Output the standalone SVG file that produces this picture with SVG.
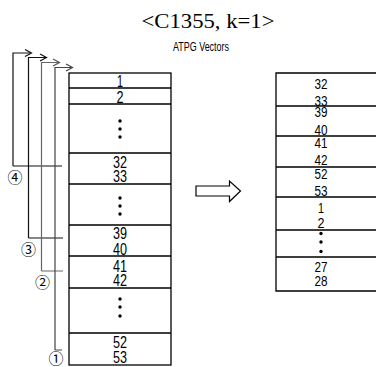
<svg xmlns="http://www.w3.org/2000/svg" width="377" height="367" viewBox="0 0 377 367">
<defs>
<style>
.ln{stroke:#000;stroke-width:1.3;fill:none}
.br{stroke:#111;stroke-width:1.2;fill:none}
.ah{stroke:#111;stroke-width:1.2;fill:none}
.n{font-family:"Liberation Sans",Arial,sans-serif;font-size:17px;text-anchor:middle;fill:#000}
.m{font-family:"Liberation Sans",Arial,sans-serif;font-size:14.5px;text-anchor:middle;fill:#000}
.c{font-family:"Noto Sans CJK JP","DejaVu Sans",sans-serif;font-size:15px;text-anchor:middle;fill:#000}
</style>
</defs>
<rect width="377" height="367" fill="#fff"/>
<text x="208" y="28" font-family="'Liberation Serif',serif" font-size="20" text-anchor="middle" textLength="133" lengthAdjust="spacingAndGlyphs">&lt;C1355, k=1&gt;</text>
<text x="201" y="51" font-family="'Liberation Sans',sans-serif" font-size="12.5" text-anchor="middle" textLength="56" lengthAdjust="spacingAndGlyphs">ATPG Vectors</text>

<g id="left-vectors">
<rect class="ln" x="69" y="73" width="102" height="292"/>
<path class="ln" d="M69 88H171M69 104H171M69 153H171M69 184H171M69 225H171M69 256H171M69 288H171M69 333H171"/>
<text class="n" x="120" y="87" textLength="6" lengthAdjust="spacingAndGlyphs">1</text>
<text class="n" x="120" y="103" textLength="7" lengthAdjust="spacingAndGlyphs">2</text>
<g fill="#000"><circle cx="120" cy="121" r="1.7"/><circle cx="120" cy="129" r="1.7"/><circle cx="120" cy="137" r="1.7"/></g>
<text class="n" x="120" y="168" textLength="14" lengthAdjust="spacingAndGlyphs">32</text>
<text class="n" x="120" y="182" textLength="14" lengthAdjust="spacingAndGlyphs">33</text>
<g fill="#000"><circle cx="120" cy="198" r="1.7"/><circle cx="120" cy="206" r="1.7"/><circle cx="120" cy="214" r="1.7"/></g>
<text class="n" x="120" y="239" textLength="14" lengthAdjust="spacingAndGlyphs">39</text>
<text class="n" x="120" y="255" textLength="14" lengthAdjust="spacingAndGlyphs">40</text>
<text class="n" x="120" y="272" textLength="14" lengthAdjust="spacingAndGlyphs">41</text>
<text class="n" x="120" y="286" textLength="14" lengthAdjust="spacingAndGlyphs">42</text>
<g fill="#000"><circle cx="120" cy="299" r="1.7"/><circle cx="120" cy="307" r="1.7"/><circle cx="120" cy="316" r="1.7"/></g>
<text class="n" x="120" y="348" textLength="14" lengthAdjust="spacingAndGlyphs">52</text>
<text class="n" x="120" y="363" textLength="14" lengthAdjust="spacingAndGlyphs">53</text>
</g>

<g id="connectors">
<g id="bracket-4">
<path class="br" d="M13 166V53H31M13 166H62"/>
<path class="ah" d="M25 49.5L31.5 53L25 56.5"/>
</g>
<g id="bracket-3">
<path class="br" d="M28.5 238V57.5H46M28.5 238H63"/>
<path class="ah" d="M40 54L46.5 57.5L40 61"/>
</g>
<g id="bracket-2">
<path class="br" style="stroke:#666" d="M41.5 271V62.5H59M41.5 271H63"/>
<path class="ah" style="stroke:#555" d="M53 59L59.5 62.5L53 66"/>
</g>
<g id="bracket-1">
<path class="br" style="stroke:#444" d="M55 350V67.5H72M55 350H62"/>
<path class="ah" style="stroke:#444" d="M66 64L72.5 67.5L66 71"/>
</g>
</g>

<g id="labels">
<text class="c" x="15" y="182.5">④</text>
<text class="c" x="28.5" y="254.5">③</text>
<text class="c" x="42.5" y="288">②</text>
<text class="c" x="56" y="364">①</text>
</g>

<g id="transform-arrow">
<path d="M196 186H229.5V181L240.5 191L229.5 201.5V196H196Z" fill="#fff" stroke="#000" stroke-width="1.2"/>
</g>

<g id="right-vectors">
<path class="ln" d="M376 73H276V291H376"/>
<path class="ln" d="M276 106H376M276 136H376M276 167H376M276 197H376M276 230H376M276 257H376"/>
<text class="m" x="321" y="89" textLength="13" lengthAdjust="spacingAndGlyphs">32</text>
<text class="m" x="321" y="105.5" textLength="13" lengthAdjust="spacingAndGlyphs">33</text>
<text class="m" x="321" y="117" textLength="13" lengthAdjust="spacingAndGlyphs">39</text>
<text class="m" x="321" y="135" textLength="13" lengthAdjust="spacingAndGlyphs">40</text>
<text class="m" x="321" y="148" textLength="13" lengthAdjust="spacingAndGlyphs">41</text>
<text class="m" x="321" y="165" textLength="13" lengthAdjust="spacingAndGlyphs">42</text>
<text class="m" x="321" y="179" textLength="13" lengthAdjust="spacingAndGlyphs">52</text>
<text class="m" x="321" y="196" textLength="13" lengthAdjust="spacingAndGlyphs">53</text>
<text class="m" x="321" y="213" textLength="6" lengthAdjust="spacingAndGlyphs">1</text>
<text class="m" x="321" y="228" textLength="7" lengthAdjust="spacingAndGlyphs">2</text>
<g fill="#000"><circle cx="321" cy="233.5" r="1.7"/><circle cx="321" cy="242" r="1.7"/><circle cx="321" cy="251.5" r="1.7"/></g>
<text class="m" x="321" y="272" textLength="13" lengthAdjust="spacingAndGlyphs">27</text>
<text class="m" x="321" y="286" textLength="13" lengthAdjust="spacingAndGlyphs">28</text>
</g>
</svg>
